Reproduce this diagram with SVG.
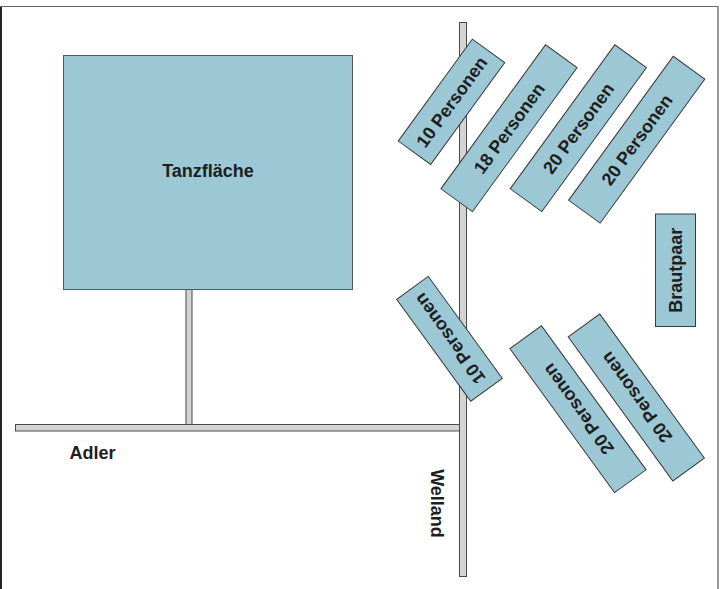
<svg xmlns="http://www.w3.org/2000/svg" width="727" height="589" viewBox="0 0 727 589">
<style>
.tbl{fill:#9bc8d4;stroke:#3a3a3a;stroke-width:1}
.bar{fill:#d4d4d4;stroke:#4a4a4a;stroke-width:1}
.lbl{font-family:"Liberation Sans",Arial,sans-serif;font-weight:bold;font-size:18px;fill:#1e1e1e;text-anchor:middle}
</style>
<rect width="727" height="589" fill="#ffffff"/>
<g id="frame" fill="none">
<line x1="1" y1="6" x2="1" y2="589" stroke="#222" stroke-width="2"/>
<line x1="0" y1="6.5" x2="718" y2="6.5" stroke="#666" stroke-width="1"/>
<line x1="718" y1="6" x2="718" y2="589" stroke="#777" stroke-width="1.5"/>
</g>
<g id="connectors">
<rect class="bar" x="186" y="288" width="6" height="137"/>
<rect class="bar" x="15.5" y="424.5" width="445" height="6.5"/>
<rect class="bar" x="459.5" y="22.5" width="7" height="554"/>
</g>
<g id="tanzflaeche">
<rect x="63.5" y="55.5" width="289" height="234" fill="#9bc8d4" stroke="#555" stroke-width="1"/>
<text class="lbl" x="208" y="177">Tanzfläche</text>
</g>
<g id="table-t1" transform="translate(451.5,101.8) rotate(-54)">
<rect class="tbl" x="-63" y="-20" width="126" height="40"/>
<text class="lbl" x="0" y="6.5">10 Personen</text>
</g>
<g id="table-t2" transform="translate(509,128.2) rotate(-54)">
<rect class="tbl" x="-89" y="-19.5" width="178" height="39"/>
<text class="lbl" x="0" y="6.5">18 Personen</text>
</g>
<g id="table-t3" transform="translate(578.3,128.2) rotate(-54)">
<rect class="tbl" x="-89" y="-19.5" width="178" height="39"/>
<text class="lbl" x="0" y="6.5">20 Personen</text>
</g>
<g id="table-t4" transform="translate(636.7,139.7) rotate(-54)">
<rect class="tbl" x="-89" y="-19.5" width="178" height="39"/>
<text class="lbl" x="0" y="6.5">20 Personen</text>
</g>
<g id="table-b1" transform="translate(449.5,338.8) rotate(-126)">
<rect class="tbl" x="-63" y="-19.5" width="126" height="39"/>
<text class="lbl" x="0" y="6.5">10 Personen</text>
</g>
<g id="table-b2" transform="translate(578,409.2) rotate(-126)">
<rect class="tbl" x="-89" y="-19.5" width="178" height="39"/>
<text class="lbl" x="0" y="6.5">20 Personen</text>
</g>
<g id="table-b3" transform="translate(636.3,397.5) rotate(-126)">
<rect class="tbl" x="-89" y="-19.5" width="178" height="39"/>
<text class="lbl" x="0" y="6.5">20 Personen</text>
</g>
<g id="brautpaar">
<rect class="tbl" x="655.5" y="214" width="40" height="112.5"/>
<text class="lbl" transform="translate(682,270.2) rotate(-90)" x="0" y="0">Brautpaar</text>
</g>
<g id="adler">
<text class="lbl" x="92.5" y="459">Adler</text>
</g>
<g id="welland">
<text class="lbl" transform="translate(431,503.5) rotate(90)" x="0" y="0">Welland</text>
</g>
</svg>
